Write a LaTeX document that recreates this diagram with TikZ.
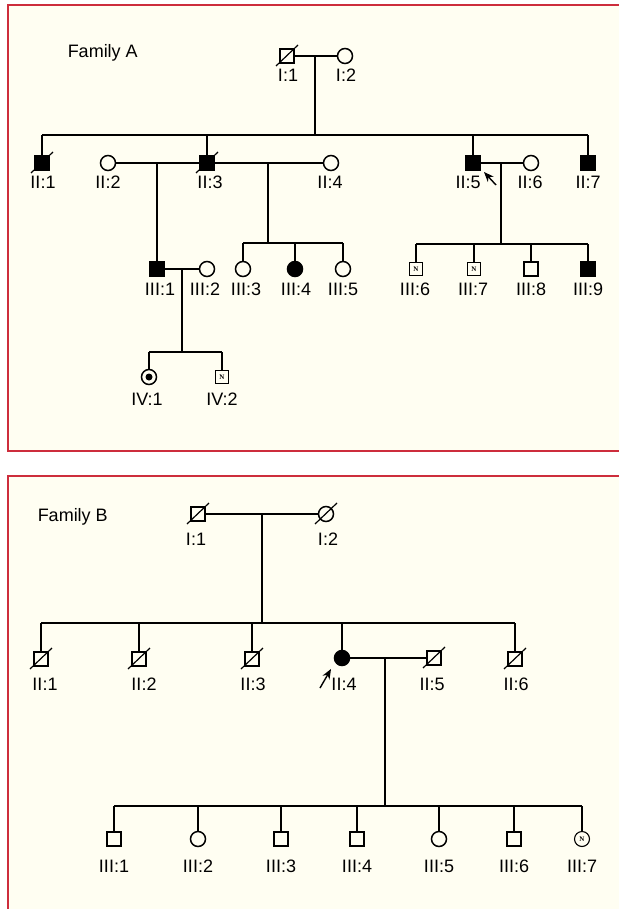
\documentclass[tikz,border=0pt]{standalone}
\usepackage{fontspec}
\setmainfont{Liberation Sans}
\newfontfamily\nfont{Liberation Serif}
\usetikzlibrary{arrows.meta}
\definecolor{cream}{RGB}{255,254,242}
\definecolor{frame}{RGB}{205,45,60}
\newcommand\deadmark[1]{\draw[line width=1.2pt] ([shift={(-11,10)}]#1.center) -- ([shift={(11,-11)}]#1.center);}
\begin{document}
\begin{tikzpicture}[x=1pt,y=-1pt, line width=1.5pt,
  male/.style={draw, rectangle, minimum size=14pt, inner sep=0pt, fill=cream},
  female/.style={draw, circle, minimum size=15pt, inner sep=0pt, fill=cream},
  aff/.style={fill=black},
  nbox/.style={draw, rectangle, minimum size=13pt, inner sep=0pt, fill=cream, line width=1.1pt, font=\nfont\bfseries\fontsize{7}{7}\selectfont},
  ncirc/.style={draw, circle, minimum size=15pt, inner sep=0pt, fill=cream, line width=1.1pt, font=\nfont\bfseries\fontsize{7}{7}\selectfont},
  lab/.style={font=\fontsize{18}{18}\selectfont, inner sep=0pt},
  parrow/.style={-{Stealth[length=10pt,width=8pt]}, line width=1.4pt}]
\useasboundingbox (0,0) rectangle (618,909);
\fill[white] (0,0) rectangle (618,909);
% panels
\fill[cream] (8,5) rectangle (630,451);
\draw[frame, line width=1.6pt] (630,5) -- (8,5) -- (8,451) -- (630,451);
\fill[cream] (8,476) rectangle (630,920);
\draw[frame, line width=1.6pt] (630,476) -- (8,476) -- (8,920);

% ================= Family A =================
\node[lab, anchor=base west] (famA) at (67,58) {Family A};
% generation I
\coordinate (AmI) at (315,56);
\coordinate (AsI) at (315,135);
\node[male] (AI1) at (287,56) {};
\node[female] (AI2) at (345,56) {};
\draw (AI1) -- (AI2);
\draw (AmI) -- (AsI);
\deadmark{AI1}
\node[lab] (AI1l) at (288,75) {I:1};
\node[lab] (AI2l) at (346,75) {I:2};
% generation II
\node[male,aff] (AII1) at (42,163) {};
\node[female] (AII2) at (108,163) {};
\node[male,aff] (AII3) at (207,163) {};
\node[female] (AII4) at (331,163) {};
\node[male,aff] (AII5) at (473,163) {};
\node[female] (AII6) at (531,163) {};
\node[male,aff] (AII7) at (588,163) {};
\draw (AII1 |- AsI) -- (AII7 |- AsI);
\foreach \n in {AII1,AII3,AII5,AII7} \draw (\n) -- (\n |- AsI);
\draw (AII2) -- (AII3);
\draw (AII3) -- (AII4);
\draw (AII5) -- (AII6);
\deadmark{AII1}
\deadmark{AII3}
\node[lab] (AII1l) at (43,182) {II:1};
\node[lab] (AII2l) at (108,182) {II:2};
\node[lab] (AII3l) at (210,182) {II:3};
\node[lab] (AII4l) at (330,182) {II:4};
\node[lab] (AII5l) at (468,182) {II:5};
\node[lab] (AII6l) at (530,182) {II:6};
\node[lab] (AII7l) at (588,182) {II:7};
\coordinate (AprobT) at (496,185);
\draw[parrow] (AprobT) -- ([shift={(11,9)}]AII5.center);
% generation III
\coordinate (Am23) at (157,163);
\node[male,aff] (AIII1) at (157,269) {};
\node[female] (AIII2) at (207,269) {};
\draw (Am23) -- (AIII1);
\draw (AIII1) -- (AIII2);
\coordinate (Am34) at (268,163);
\coordinate (As34) at (268,243);
\draw (Am34) -- (As34);
\node[female] (AIII3) at (243,269) {};
\node[female,aff] (AIII4) at (295,269) {};
\node[female] (AIII5) at (343,269) {};
\draw (AIII3 |- As34) -- (AIII5 |- As34);
\foreach \n in {AIII3,AIII4,AIII5} \draw (\n) -- (\n |- As34);
\coordinate (Am56) at (501,163);
\coordinate (As56) at (501,244);
\draw (Am56) -- (As56);
\node[nbox] (AIII6) at (416,269) {N};
\node[nbox] (AIII7) at (474,269) {N};
\node[male] (AIII8) at (531,269) {};
\node[male,aff] (AIII9) at (588,269) {};
\draw (AIII6 |- As56) -- (AIII9 |- As56);
\foreach \n in {AIII6,AIII7,AIII8,AIII9} \draw (\n) -- (\n |- As56);
\node[lab] (AIII1l) at (160,289) {III:1};
\node[lab] (AIII2l) at (205,289) {III:2};
\node[lab] (AIII3l) at (246,289) {III:3};
\node[lab] (AIII4l) at (296,289) {III:4};
\node[lab] (AIII5l) at (343,289) {III:5};
\node[lab] (AIII6l) at (415,289) {III:6};
\node[lab] (AIII7l) at (473,289) {III:7};
\node[lab] (AIII8l) at (531,289) {III:8};
\node[lab] (AIII9l) at (588,289) {III:9};
% generation IV
\coordinate (Am12) at (182,269);
\coordinate (As12) at (182,352);
\draw (Am12) -- (As12);
\node[female] (AIV1) at (149,377) {};
\fill (AIV1.center) circle (3.5pt);
\node[nbox] (AIV2) at (222,377) {N};
\draw (AIV1 |- As12) -- (AIV2 |- As12);
\foreach \n in {AIV1,AIV2} \draw (\n) -- (\n |- As12);
\node[lab] (AIV1l) at (147,399) {IV:1};
\node[lab] (AIV2l) at (222,399) {IV:2};

% ================= Family B =================
\node[lab, anchor=base west] (famB) at (37,521) {Family B};
% generation I
\coordinate (BmI) at (262,514);
\coordinate (BsI) at (262,623);
\node[male] (BI1) at (198,514) {};
\node[female] (BI2) at (326,514) {};
\draw (BI1) -- (BI2);
\draw (BmI) -- (BsI);
\deadmark{BI1}
\deadmark{BI2}
\node[lab] (BI1l) at (196,539) {I:1};
\node[lab] (BI2l) at (328,539) {I:2};
% generation II
\node[male] (BII1) at (41,659) {};
\node[male] (BII2) at (139,659) {};
\node[male] (BII3) at (252,659) {};
\node[female,aff] (BII4) at (342,658) {};
\node[male] (BII5) at (434,658) {};
\node[male] (BII6) at (515,659) {};
\draw (BII1 |- BsI) -- (BII6 |- BsI);
\foreach \n in {BII1,BII2,BII3,BII4,BII6} \draw (\n) -- (\n |- BsI);
\draw (BII4) -- (BII5);
\foreach \n in {BII1,BII2,BII3,BII5,BII6} {\deadmark{\n}}
\node[lab] (BII1l) at (45,684) {II:1};
\node[lab] (BII2l) at (144,684) {II:2};
\node[lab] (BII3l) at (253,684) {II:3};
\node[lab] (BII4l) at (344,684) {II:4};
\node[lab] (BII5l) at (432,684) {II:5};
\node[lab] (BII6l) at (516,684) {II:6};
\coordinate (BprobT) at (320,688);
\draw[parrow] (BprobT) -- ([shift={(-11,11)}]BII4.center);
% generation III
\coordinate (Bm45) at (385,658);
\coordinate (Bs45) at (385,806);
\draw (Bm45) -- (Bs45);
\node[male] (BIII1) at (114,839) {};
\node[female] (BIII2) at (198,839) {};
\node[male] (BIII3) at (281,839) {};
\node[male] (BIII4) at (357,839) {};
\node[female] (BIII5) at (439,839) {};
\node[male] (BIII6) at (514,839) {};
\node[ncirc] (BIII7) at (582,839) {N};
\draw (BIII1 |- Bs45) -- (BIII7 |- Bs45);
\foreach \n in {BIII1,BIII2,BIII3,BIII4,BIII5,BIII6,BIII7} \draw (\n) -- (\n |- Bs45);
\node[lab] (BIII1l) at (114,866) {III:1};
\node[lab] (BIII2l) at (198,866) {III:2};
\node[lab] (BIII3l) at (281,866) {III:3};
\node[lab] (BIII4l) at (357,866) {III:4};
\node[lab] (BIII5l) at (439,866) {III:5};
\node[lab] (BIII6l) at (514,866) {III:6};
\node[lab] (BIII7l) at (582,866) {III:7};
\end{tikzpicture}
\end{document}
